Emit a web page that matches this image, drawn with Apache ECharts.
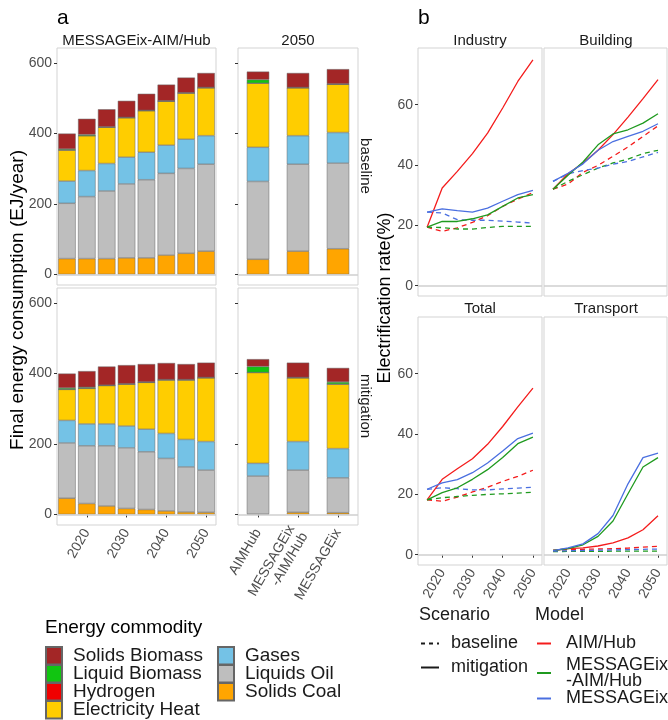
<!DOCTYPE html>
<html><head><meta charset="utf-8">
<script src="https://cdn.jsdelivr.net/npm/echarts@6/dist/echarts.min.js"></script>
<style>html,body{margin:0;padding:0;background:#fff}#c{width:668px;height:720px}</style>
</head><body><div id="c"></div>
<script>
// ---------------- DATA ----------------
const years = ['2015','2020','2025','2030','2035','2040','2045','2050'];
const yearNums = [2015,2020,2025,2030,2035,2040,2045,2050];
const models2050 = ['AIMHub','MESSAGEix\n-AIM/Hub','MESSAGEix'];
// stack order bottom -> top
const commodities = ['Solids Coal','Liquids Oil','Gases','Electricity Heat','Hydrogen','Liquid Biomass','Solids Biomass'];
const yTicksA = [0,200,400,600];
const yTicksB = [0,20,40,60];
const xTicksB = [2020,2030,2040,2050];

// Panel a: MESSAGEix-AIM/Hub, baseline (EJ/year)
const baseCoal  = [45,45,45,47,47,55,60,66];
const baseOil   = [157,176,192,210,222,232,241,247];
const baseGas   = [63,74,78,76,78,80,83,81];
const baseElec  = [88,99,103,112,118,125,131,136];
const baseH2    = [0,0,0,0,0,0,0,0];
const baseLBio  = [3,3,1,1,1,1,1,1];
const baseSBio  = [44,45,50,47,47,46,43,41];
// Panel a: MESSAGEix-AIM/Hub, mitigation
const mitCoal  = [46,31,24,17,14,10,7,6];
const mitOil   = [157,164,171,172,164,149,128,120];
const mitGas   = [64,62,62,62,64,71,78,81];
const mitElec  = [88,101,109,119,133,152,169,181];
const mitH2    = [0,0,0,0,0,0,0,0];
const mitLBio  = [4,3,1,1,1,1,1,1];
const mitSBio  = [41,46,53,53,51,47,44,42];
// Panel a: 2050 by model, baseline
const b50Coal = [43,66,73];
const b50Oil  = [221,247,243];
const b50Gas  = [97,81,87];
const b50Elec = [182,136,137];
const b50H2   = [0,0,0];
const b50LBio = [10,1,1];
const b50SBio = [23,41,42];
// Panel a: 2050 by model, mitigation
const m50Coal = [1,6,5];
const m50Oil  = [108,120,99];
const m50Gas  = [36,81,83];
const m50Elec = [258,181,183];
const m50H2   = [0,0,0];
const m50LBio = [17,1,6];
const m50SBio = [21,42,40];

// Panel b: electrification rate (%)
const indAimMit = [19.4,32.4,37.9,43.8,50.6,58.9,67.7,74.9];
const indMaMit  = [19.4,21.3,21.3,22.2,23.5,26.3,29.1,30.2];
const indMsgMit = [24.4,25.5,24.9,24.4,25.7,28.0,30.2,31.6];
const indAimBase = [19.4,18.0,19.2,21.0,23.2,26.3,28.7,30.9];
const indMaBase  = [19.4,19.3,18.8,18.8,19.3,19.7,19.7,19.7];
const indMsgBase = [24.4,24.1,21.9,21.7,21.7,21.4,21.1,20.8];

const bldAimMit = [32.0,37.1,40.7,44.9,50.1,55.9,62.0,68.3];
const bldMaMit  = [32.0,36.6,41.0,46.7,50.3,51.7,53.9,57.0];
const bldMsgMit = [34.6,37.3,40.4,44.9,47.8,49.5,51.2,53.7];
const bldAimBase = [32.0,33.7,37.6,39.9,42.9,46.0,49.5,53.0];
const bldMaBase  = [32.0,34.6,36.8,39.0,40.7,42.0,43.8,44.9];
const bldMsgBase = [34.6,37.1,38.2,39.0,40.3,41.2,42.7,44.2];

const totAimMit = [18.2,25.0,28.5,31.8,36.6,42.5,49.0,55.2];
const totMaMit  = [18.2,20.6,22.2,25.0,28.2,32.2,36.8,39.0];
const totMsgMit = [21.7,23.8,24.9,27.2,30.4,34.4,38.5,40.3];
const totAimBase = [18.2,17.7,19.1,20.8,22.4,24.3,26.0,28.0];
const totMaBase  = [18.2,18.9,19.3,19.7,20.0,20.2,20.4,20.7];
const totMsgBase = [21.7,22.2,21.9,21.5,21.5,21.8,22.1,22.4];

const trnAimMit = [1.4,2.0,2.3,2.9,3.9,5.6,8.3,12.9];
const trnMaMit  = [1.4,2.0,3.3,6.1,11.2,20.2,29.1,32.2];
const trnMsgMit = [1.4,2.3,3.6,7.0,13.0,23.5,32.2,33.7];
const trnAimBase = [1.4,1.7,1.8,1.9,2.0,2.2,2.5,2.8];
const trnMaBase  = [1.0,1.1,1.1,1.1,1.2,1.2,1.2,1.2];
const trnMsgBase = [1.2,1.3,1.4,1.5,1.6,1.7,1.8,1.9];

const modelNames = ['AIM/Hub','MESSAGEix\n-AIM/Hub','MESSAGEix'];
const scenarioNames = ['baseline','mitigation'];

// ---------------- STYLE ----------------
const FONT = "'Liberation Sans', Arial, Helvetica, sans-serif";
const fillColors = {
  'Solids Coal':'#FFA500','Liquids Oil':'#BEBEBE','Gases':'#74C2E6','Electricity Heat':'#FFCD00',
  'Hydrogen':'#F00000','Liquid Biomass':'#11C511','Solids Biomass':'#A32626'
};
const modelColors = ['#F41C1C','#1F9A1F','#4A6FE0'];
const TICKC = '#4d4d4d';

const grids = [
  {left:57, top:48, width:159, height:237},
  {left:238, top:48, width:120, height:237},
  {left:57, top:288, width:159, height:237},
  {left:238, top:288, width:120, height:237},
  {left:418, top:48, width:124, height:248},
  {left:544, top:48, width:123, height:248},
  {left:418, top:317, width:124, height:248},
  {left:544, top:317, width:123, height:248}
].map(g => Object.assign(g, {show:true, borderColor:'#d3d3d3', borderWidth:1, backgroundColor:'transparent'}));

const decadeFn = (i, v) => (+v) % 10 === 0;
const hidden = {axisLine:{show:false}, axisTick:{show:false}, axisLabel:{show:false}, splitLine:{show:false}};
const tickStyle = {length:3, lineStyle:{color:'#333', width:1}};
const labStyle = {color:TICKC, fontSize:14, fontFamily:FONT};

const xAxes = [
  Object.assign({type:'category', gridIndex:0, data:years}, hidden),
  Object.assign({type:'category', gridIndex:1, data:models2050}, hidden),
  {type:'category', gridIndex:2, data:years, axisLine:{show:false}, splitLine:{show:false},
   axisTick:Object.assign({show:true, alignWithLabel:true, interval:decadeFn}, tickStyle),
   axisLabel:Object.assign({interval:decadeFn, rotate:60, margin:5}, labStyle)},
  {type:'category', gridIndex:3, data:models2050, axisLine:{show:false}, splitLine:{show:false},
   axisTick:Object.assign({show:true, alignWithLabel:true, interval:0}, tickStyle),
   axisLabel:Object.assign({interval:0, rotate:60, margin:5, lineHeight:15}, labStyle)},
  Object.assign({type:'value', gridIndex:4, min:2012, max:2053}, hidden),
  Object.assign({type:'value', gridIndex:5, min:2012, max:2053}, hidden),
  {type:'value', gridIndex:6, min:2012, max:2053, axisLine:{show:false}, splitLine:{show:false},
   axisTick:Object.assign({show:true, customValues:xTicksB}, tickStyle),
   axisLabel:Object.assign({customValues:xTicksB, rotate:60, margin:5, formatter:v=>String(v)}, labStyle)},
  {type:'value', gridIndex:7, min:2012, max:2053, axisLine:{show:false}, splitLine:{show:false},
   axisTick:Object.assign({show:true, customValues:xTicksB}, tickStyle),
   axisLabel:Object.assign({customValues:xTicksB, rotate:60, margin:5, formatter:v=>String(v)}, labStyle)}
];

function yA(gi, showLabels){
  return {type:'value', gridIndex:gi, min:-30, max:643, axisLine:{show:false}, splitLine:{show:false},
    axisTick:Object.assign({show:true, customValues:yTicksA}, tickStyle),
    axisLabel:Object.assign({show:showLabels, customValues:yTicksA, margin:5}, labStyle)};
}
function yB(gi, showLabels){
  if(!showLabels) return Object.assign({type:'value', gridIndex:gi, min:-3.4, max:78.8}, hidden);
  return {type:'value', gridIndex:gi, min:-3.4, max:78.8, axisLine:{show:false}, splitLine:{show:false},
    axisTick:Object.assign({show:true, customValues:yTicksB}, tickStyle),
    axisLabel:Object.assign({customValues:yTicksB, margin:5}, labStyle)};
}
const yAxes = [yA(0,true), yA(1,false), yA(2,true), yA(3,false), yB(4,true), yB(5,false), yB(6,true), yB(7,false)];

const zeroLine = {silent:true, symbol:'none', label:{show:false}, animation:false,
  lineStyle:{color:'#cfcfcf', width:1.5, type:'solid'}, data:[{yAxis:0}]};

const series = [];
function addBars(gi, arrays, bw){
  arrays.forEach((arr, k) => {
    const s = {type:'bar', name:commodities[k], xAxisIndex:gi, yAxisIndex:gi, stack:'s'+gi,
      barWidth:bw, data:arr, animation:false,
      itemStyle:{color:fillColors[commodities[k]], borderColor:'#666', borderWidth:0.5},
      emphasis:{disabled:true}};
    if(k===0) s.markLine = zeroLine;
    series.push(s);
  });
}
addBars(0, [baseCoal,baseOil,baseGas,baseElec,baseH2,baseLBio,baseSBio], '88%');
addBars(1, [b50Coal,b50Oil,b50Gas,b50Elec,b50H2,b50LBio,b50SBio], '56%');
addBars(2, [mitCoal,mitOil,mitGas,mitElec,mitH2,mitLBio,mitSBio], '88%');
addBars(3, [m50Coal,m50Oil,m50Gas,m50Elec,m50H2,m50LBio,m50SBio], '56%');

function addLines(gi, base, mit){
  [0,1].forEach(si => {
    const sets = si===0 ? base : mit;
    sets.forEach((vals, mi) => {
      const s = {type:'line', name:modelNames[mi]+' '+scenarioNames[si]+' '+gi, xAxisIndex:gi, yAxisIndex:gi,
        data:yearNums.map((y,i)=>[y, vals[i]]), symbol:'none', animation:false,
        lineStyle:{color:modelColors[mi], width:1.3, type: si===0 ? [5,4] : 'solid'},
        itemStyle:{color:modelColors[mi]}, emphasis:{disabled:true}};
      if(si===0 && mi===0) s.markLine = zeroLine;
      series.push(s);
    });
  });
}
addLines(4, [indAimBase,indMaBase,indMsgBase], [indAimMit,indMaMit,indMsgMit]);
addLines(5, [bldAimBase,bldMaBase,bldMsgBase], [bldAimMit,bldMaMit,bldMsgMit]);
addLines(6, [totAimBase,totMaBase,totMsgBase], [totAimMit,totMaMit,totMsgMit]);
addLines(7, [trnAimBase,trnMaBase,trnMsgBase], [trnAimMit,trnMaMit,trnMsgMit]);

// legend-only series
scenarioNames.forEach((nm, si) => series.push({type:'line', name:nm, xAxisIndex:4, yAxisIndex:4, data:[], symbol:'none',
  lineStyle:{color:'#1a1a1a', width:1.4, type: si===0 ? [4,4] : 'solid'}, itemStyle:{color:'#1a1a1a', opacity:0}}));
modelNames.forEach((nm, mi) => series.push({type:'line', name:nm, xAxisIndex:4, yAxisIndex:4, data:[], symbol:'none',
  lineStyle:{color:modelColors[mi], width:1.4}, itemStyle:{color:modelColors[mi], opacity:0}}));

const legBase = {orient:'vertical', padding:0, selectedMode:false, icon:'rect', itemWidth:16, itemHeight:17.5, itemGap:-1.5,
  height:100,
  textStyle:{fontSize:19, lineHeight:17, color:'#1a1a1a', fontFamily:FONT, padding:[0,0,0,6]}};
const legLine = {orient:'vertical', padding:0, selectedMode:false, itemHeight:14, itemStyle:{opacity:0},
  textStyle:{fontSize:18, lineHeight:17, color:'#1a1a1a', fontFamily:FONT}};
const legends = [
  Object.assign({}, legBase, {left:45, top:646, data:['Solids Biomass','Liquid Biomass','Hydrogen','Electricity Heat']}),
  Object.assign({}, legBase, {left:217, top:646, data:['Gases','Liquids Oil','Solids Coal']}),
  Object.assign({}, legLine, {left:420, top:634.5, itemWidth:18, itemGap:6, data:['baseline','mitigation'],
     textStyle:Object.assign({}, legLine.textStyle, {padding:[0,0,0,7]})}),
  Object.assign({}, legLine, {left:536, top:634.5, itemWidth:14, data:[modelNames[0]],
     textStyle:Object.assign({}, legLine.textStyle, {padding:[0,0,0,10]})}),
  Object.assign({}, legLine, {left:536, top:656, itemWidth:14, data:[modelNames[1]],
     textStyle:Object.assign({}, legLine.textStyle, {lineHeight:16, padding:[0,0,0,10]})}),
  Object.assign({}, legLine, {left:536, top:689.5, itemWidth:14, data:[modelNames[2]],
     textStyle:Object.assign({}, legLine.textStyle, {padding:[0,0,0,10]})})
];

function txt(t, x, y, size, opts){
  opts = opts || {};
  return {type:'text', x:x, y:y, rotation:opts.rot||0, silent:true,
    style:{text:t, fontSize:size, fontFamily:FONT, fill:opts.fill||'#1a1a1a',
      align:opts.align||'center', textAlign:opts.align||'center', verticalAlign:'middle', textVerticalAlign:'middle'}};
}
const graphics = [
  txt('a', 57, 18, 21, {align:'left', fill:'#000'}),
  txt('b', 418, 18, 21, {align:'left', fill:'#000'}),
  txt('MESSAGEix-AIM/Hub', 136.5, 41, 15),
  txt('2050', 298, 41, 15),
  txt('Industry', 480, 41, 15),
  txt('Building', 606, 41, 15),
  txt('Total', 480, 309, 15),
  txt('Transport', 606, 309, 15),
  txt('baseline', 365, 166, 15, {rot:-Math.PI/2}),
  txt('mitigation', 365, 406, 15, {rot:-Math.PI/2}),
  txt('Final energy consumption (EJ/year)', 18, 300, 19, {rot:Math.PI/2, fill:'#000'}),
  txt('Electrification rate(%)', 385, 298, 18, {rot:Math.PI/2, fill:'#000'}),
  txt('Energy commodity', 45, 628, 19, {align:'left', fill:'#000'}),
  txt('Scenario', 419, 615, 18, {align:'left'}),
  txt('Model', 535, 615, 18, {align:'left'})
];

const chart = echarts.init(document.getElementById('c'), null, {renderer:'canvas'});
chart.setOption({
  animation:false,
  backgroundColor:'#fff',
  textStyle:{fontFamily:FONT},
  grid:grids, xAxis:xAxes, yAxis:yAxes, series:series, legend:legends,
  graphic:{elements:graphics}
});
</script></body></html>
